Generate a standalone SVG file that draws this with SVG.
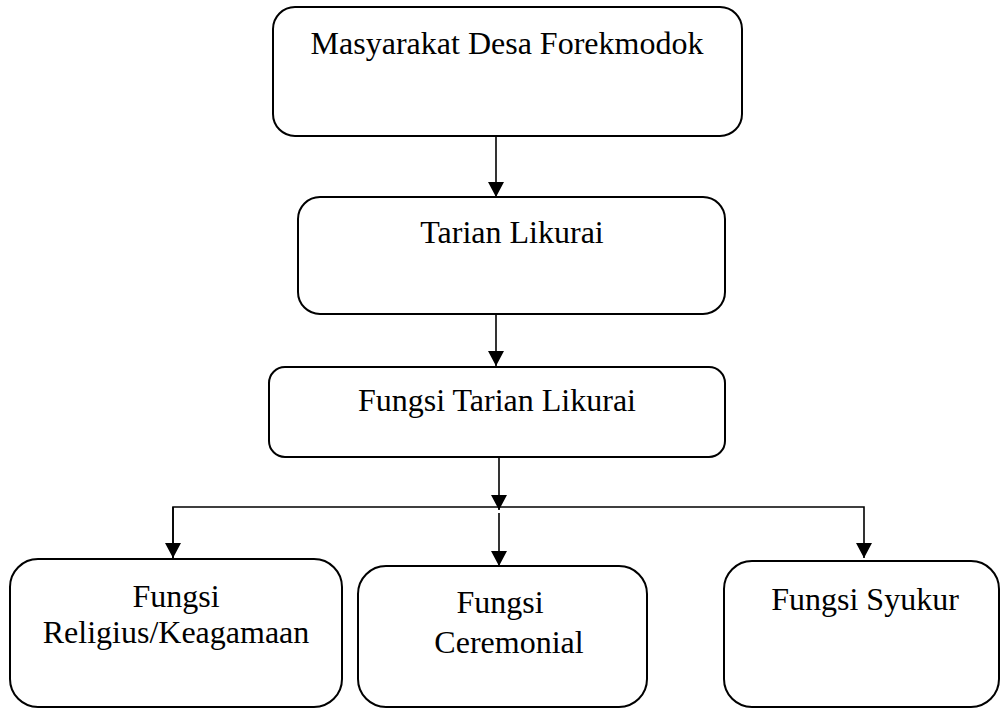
<svg xmlns="http://www.w3.org/2000/svg" width="1000" height="709" viewBox="0 0 1000 709">
<style>
.box{fill:#fff;stroke:#000;stroke-width:2}
.lbl{font-family:"Liberation Serif","Times New Roman",serif;font-size:32px;fill:#000;text-anchor:middle}
.con{stroke:#000;stroke-width:1.6;fill:none}
</style>
<defs>
<marker id="ah" markerUnits="userSpaceOnUse" markerWidth="17" markerHeight="17" refX="15" refY="8" orient="auto">
<path d="M0,0 L15,8 L0,16 z" fill="#000"/>
</marker>
</defs>
<rect width="1000" height="709" fill="#fff"/>
<g id="connectors">
<line class="con" x1="496" y1="136" x2="496" y2="197" marker-end="url(#ah)"/>
<line class="con" x1="496" y1="314" x2="496" y2="366" marker-end="url(#ah)"/>
<line class="con" x1="499" y1="457" x2="499" y2="510" marker-end="url(#ah)"/>
<polyline class="con" points="173,558 173,507 864,507 864,558" marker-end="url(#ah)"/>
<line class="con" x1="173" y1="507" x2="173" y2="558" marker-end="url(#ah)"/>
<line class="con" x1="499" y1="513" x2="499" y2="566" marker-end="url(#ah)"/>
</g>
<g id="n1">
<rect class="box" x="273" y="7" width="469" height="129" rx="22"/>
<text class="lbl" x="507" y="54">Masyarakat Desa Forekmodok</text>
</g>
<g id="n2">
<rect class="box" x="298" y="197" width="427" height="117" rx="22"/>
<text class="lbl" x="512" y="243">Tarian Likurai</text>
</g>
<g id="n3">
<rect class="box" x="269" y="367" width="456" height="90" rx="16"/>
<text class="lbl" x="497" y="411">Fungsi Tarian Likurai</text>
</g>
<g id="n4">
<rect class="box" x="10" y="559" width="332" height="148" rx="28"/>
<text class="lbl" x="176" y="607">Fungsi</text>
<text class="lbl" x="176" y="643">Religius/Keagamaan</text>
</g>
<g id="n5">
<rect class="box" x="358" y="566" width="289" height="141" rx="28"/>
<text class="lbl" x="500" y="613">Fungsi</text>
<text class="lbl" x="509" y="653">Ceremonial</text>
</g>
<g id="n6">
<rect class="box" x="724" y="561" width="275" height="146" rx="28"/>
<text class="lbl" x="865" y="610">Fungsi Syukur</text>
</g>
</svg>
